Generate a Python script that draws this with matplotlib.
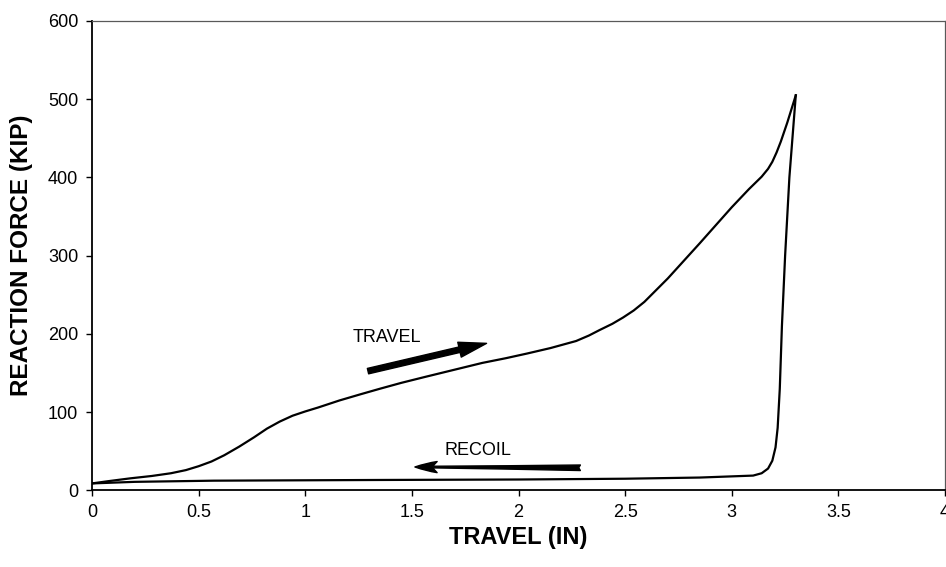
import matplotlib.pyplot as plt

plt.rcParams['font.family'] = ['Liberation Sans', 'DejaVu Sans']

# loading branch (travel)
travel_x = [0, 0.08, 0.18, 0.28, 0.37, 0.44, 0.5, 0.56, 0.62, 0.69, 0.76, 0.82, 0.88,
            0.94, 1.0, 1.06, 1.16, 1.26, 1.35, 1.45, 1.56, 1.68, 1.83, 1.94,
            2.04, 2.15, 2.27, 2.33, 2.38, 2.44, 2.49, 2.54, 2.59, 2.7, 2.85, 3.0,
            3.08, 3.14, 3.17, 3.19, 3.21, 3.23, 3.26, 3.30]
travel_y = [9, 12, 15.5, 18.5, 22, 26, 31, 37, 45, 56, 68, 79, 88,
            95.5, 101, 106, 115, 123, 130, 137.5, 145, 153, 163, 169,
            175, 182, 191, 198, 205, 213, 221, 230, 241, 271, 316, 362,
            385, 401, 411, 420, 432, 446, 470, 505]

# unloading branch (recoil)
recoil_x = [3.30, 3.27, 3.25, 3.235, 3.225, 3.215, 3.205, 3.19, 3.17, 3.14, 3.10,
            2.85, 2.5, 2.0, 1.35, 0.57, 0.2, 0.0]
recoil_y = [505, 400, 300, 210, 130, 80, 55, 38, 28, 22, 19,
            16.5, 15, 14, 13.4, 12.5, 11, 9]

xticks = [0, 0.5, 1, 1.5, 2, 2.5, 3, 3.5, 4]
xticklabels = ['0', '0.5', '1', '1.5', '2', '2.5', '3', '3.5', '4']
yticks = [0, 100, 200, 300, 400, 500, 600]

fig = plt.figure(figsize=(9.46, 5.67), dpi=100)
ax = fig.add_axes([0.0973, 0.135, 0.9017, 0.828])

ax.plot(travel_x, travel_y, c="black", lw=1.6, solid_joinstyle='round')
ax.plot(recoil_x, recoil_y, c="black", lw=1.6, solid_joinstyle='round')

ax.set_xlim(0, 4)
ax.set_ylim(0, 600)
ax.set_xticks(xticks)
ax.set_xticklabels(xticklabels)
ax.set_yticks(yticks)
ax.tick_params(direction='out', length=4, width=1, labelsize=13, pad=6)

ax.set_xlabel('TRAVEL (IN)', fontsize=17, fontweight='bold', labelpad=3)
ax.set_ylabel('REACTION FORCE (KIP)', fontsize=17.5, fontweight='bold', labelpad=11)

for s in ['left', 'bottom']:
    ax.spines[s].set_linewidth(1.3)
for s in ['top', 'right']:
    ax.spines[s].set_linewidth(0.9)
    ax.spines[s].set_color('0.35')

# annotations
ax.text(1.224, 195, 'TRAVEL', fontsize=13, va='center', ha='left')
ax.annotate('', xy=(1.85, 188), xytext=(1.294, 152.5),
            arrowprops=dict(arrowstyle='simple,head_width=1.1,head_length=2.0,tail_width=0.4',
                            color='black', shrinkA=0, shrinkB=0, mutation_scale=10))

ax.text(1.655, 51, 'RECOIL', fontsize=13, va='center', ha='left')
ax.annotate('', xy=(1.514, 30), xytext=(2.29, 29),
            arrowprops=dict(arrowstyle='fancy,head_width=0.8,head_length=1.6,tail_width=0.4',
                            color='black', shrinkA=0, shrinkB=0, mutation_scale=10))

fig.savefig("out.png", dpi=100)
